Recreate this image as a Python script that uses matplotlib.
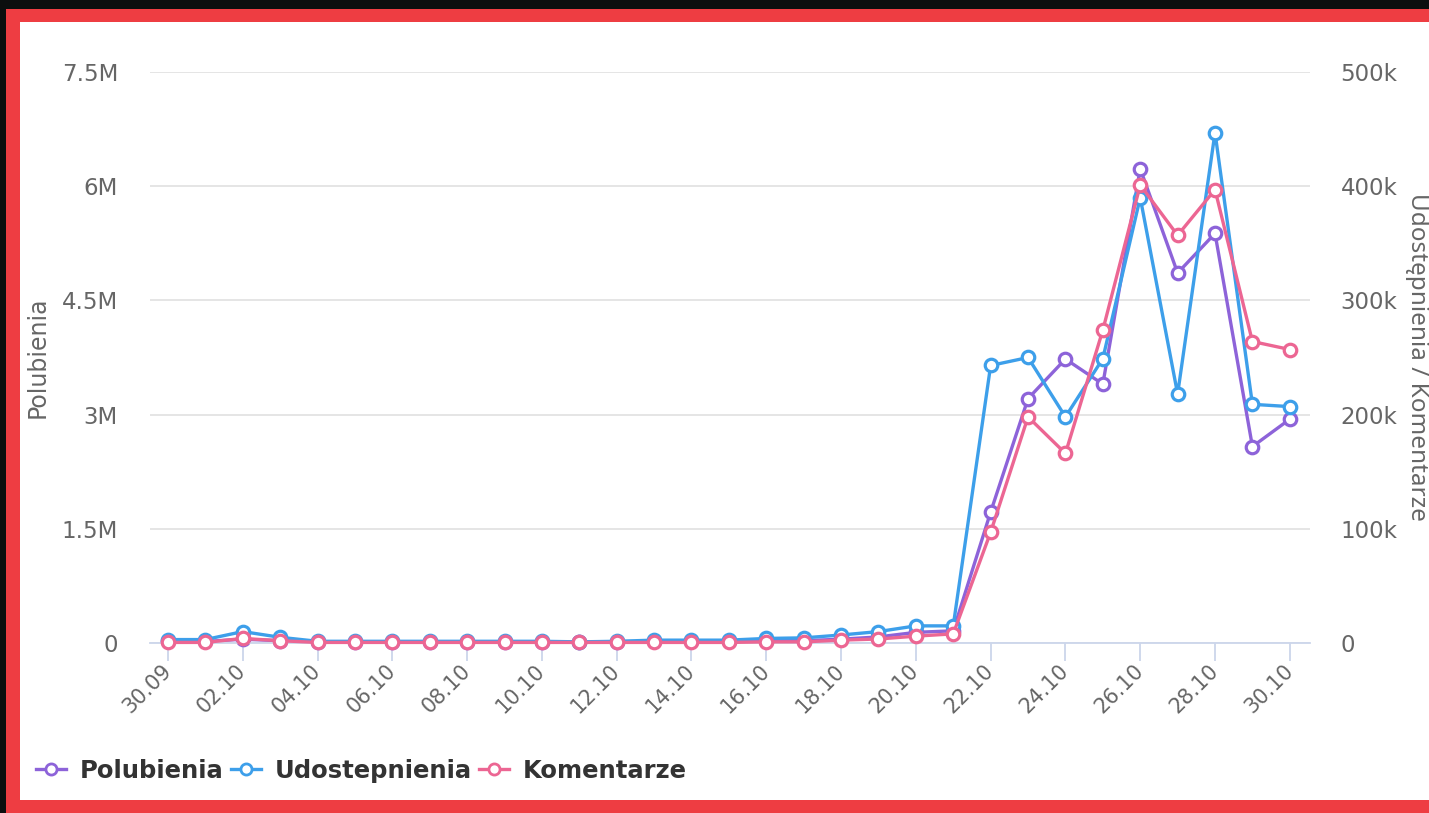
import matplotlib
matplotlib.use("Agg")
import matplotlib.pyplot as plt
from matplotlib.patches import Rectangle
from matplotlib.lines import Line2D
from matplotlib.ticker import FuncFormatter, MultipleLocator

# days 30.09 .. 30.10
dates = ["30.09"] + ["%02d.10" % d for d in range(1, 31)]

# likes (left axis, units)
polubienia = [0.02, 0.02, 0.05, 0.03, 0.01, 0.01, 0.01, 0.01, 0.01, 0.01, 0.01,
              0.01, 0.01, 0.02, 0.02, 0.02, 0.03, 0.03, 0.05, 0.08, 0.14, 0.16,
              1.72, 3.21, 3.73, 3.40, 6.23, 4.86, 5.38, 2.58, 2.94]
polubienia = [v * 1e6 for v in polubienia]

# shares / comments (right axis)
udostepnienia = [3, 3, 10, 5, 1.5, 1.5, 1.5, 1.5, 1.5, 1.5, 1.5, 1, 1.5, 2.5,
                 2.5, 2.5, 4, 4.5, 7, 10, 15, 15, 243, 250, 198, 249, 390, 218,
                 447, 209, 207]
udostepnienia = [v * 1e3 for v in udostepnienia]

komentarze = [0.5, 0.5, 4, 2, 0.5, 0.5, 0.5, 0.5, 0.5, 0.5, 0.5, 0.5, 0.5, 0.5,
              0.5, 0.5, 1, 1, 2.5, 3.5, 6, 8, 97, 198, 166, 274, 401, 357, 397,
              264, 257]
komentarze = [v * 1e3 for v in komentarze]

PURPLE = '#8d63d9'
BLUE = '#3d9fea'
PINK = '#ec6693'
GREY = '#666666'

W, H = 1429, 813
fig = plt.figure(figsize=(W / 100, H / 100), dpi=100, facecolor='#0c0e0e')

# red frame + white card
fig.patches.append(Rectangle((6 / W, 0), 1 - 6 / W, 1 - 9 / H, transform=fig.transFigure,
                             facecolor='#ee3d42', edgecolor='none', zorder=-2))
fig.patches.append(Rectangle((20 / W, 13 / H), 1 - 20 / W, (791 - 13) / H,
                             transform=fig.transFigure, facecolor='white',
                             edgecolor='none', zorder=-1))

ax = fig.add_axes([150 / W, (H - 643) / H, (1310 - 150) / W, (643 - 72) / H])
ax.patch.set_alpha(0)
ax2 = ax.twinx()

x = list(range(len(dates)))
style = dict(marker='o', markersize=9, markerfacecolor='white', markeredgewidth=2.3,
             linewidth=2.4, clip_on=False)

ax.plot(x, polubienia, color=PURPLE, markeredgecolor=PURPLE, **style)
ax2.plot(x, udostepnienia, color=BLUE, markeredgecolor=BLUE, **style)
ax2.plot(x, komentarze, color=PINK, markeredgecolor=PINK, **style)

ax.set_xlim(-0.48, 30.54)
ax.set_ylim(0, 7.5e6)
ax2.set_ylim(0, 500e3)

ax.yaxis.set_major_locator(MultipleLocator(1.5e6))
ax2.yaxis.set_major_locator(MultipleLocator(100e3))


def fmt_m(v, pos):
    if v == 0:
        return "0"
    return ("%g" % (v / 1e6)) + "M"


def fmt_k(v, pos):
    if v == 0:
        return "0"
    return ("%g" % (v / 1e3)) + "k"


ax.yaxis.set_major_formatter(FuncFormatter(fmt_m))
ax2.yaxis.set_major_formatter(FuncFormatter(fmt_k))

ax.grid(axis='y', color='#e3e3e3', linewidth=1.3)
ax.set_axisbelow(True)

for a in (ax, ax2):
    for s in a.spines.values():
        s.set_visible(False)
ax.spines['bottom'].set_visible(True)
ax.spines['bottom'].set_color('#ccd6eb')
ax.spines['bottom'].set_linewidth(1.3)

ax.set_xticks(x[::2])
ax.set_xticklabels(dates[::2], rotation=45, ha='right', va='center',
                   rotation_mode='anchor', fontsize=15, color=GREY)
ax.tick_params(axis='x', length=13, width=1.3, color='#ccd6eb', pad=5)
ax.tick_params(axis='y', length=0, labelsize=16.5, labelcolor=GREY, pad=23)
ax2.tick_params(axis='y', length=0, labelsize=16.5, labelcolor=GREY, pad=22)

fig.text(38 / W, 1 - 357 / H, 'Polubienia', rotation=90, ha='center', va='center',
         fontsize=17, color=GREY)
fig.text(1417 / W, 1 - 357 / H, 'Udostępnienia / Komentarze', rotation=270,
         ha='center', va='center', fontsize=17.5, color=GREY, family='Noto Sans')

handles = [Line2D([], [], color=c, marker='o', markersize=8, markerfacecolor='white',
                  markeredgecolor=c, markeredgewidth=2, linewidth=2.4)
           for c in (PURPLE, BLUE, PINK)]
fig.legend(handles, ['Polubienia', 'Udostepnienia', 'Komentarze'],
           loc='center left', bbox_to_anchor=(14 / W, 1 - 771 / H), ncol=3,
           frameon=False, handlelength=1.25, handletextpad=0.55, columnspacing=0.3,
           prop={'weight': 'bold', 'size': 17.5}, labelcolor='#333333')

fig.savefig('out.png', dpi=100, facecolor=fig.get_facecolor())
